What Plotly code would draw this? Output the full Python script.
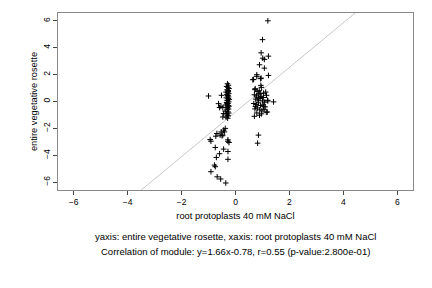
import plotly.graph_objects as go

# left cluster (root protoplasts ~ -0.3)
left_x = [-0.30,-0.26,-0.33,-0.28,-0.24,-0.31,-0.27,-0.35,-0.29,-0.25,-0.32,-0.28,-0.30,-0.26,-0.34,
          -0.27,-0.23,-0.31,-0.29,-0.25,-0.33,-0.28,-0.30,-0.36,-0.27,-0.24,-0.32,-0.29,-0.26,-0.31,
          -0.38,-0.28,-0.25,-0.33,-0.30,-0.27,-0.35,-0.29,-0.27,-0.32,
          -1.00,-0.52,-0.63,-0.54,-0.47,-0.59,-0.44,-0.47,
          -0.38,-0.44,-0.41,-0.53,-0.69,-0.47,-0.57,-0.73,-0.50,-0.28,-0.94,-0.91,-0.28,-0.24,
          -0.75,-0.44,-0.28,-0.59,-0.71,-0.28,-0.78,-0.75,-0.91,-0.68,-0.55,-0.36]
left_y = [1.32,1.21,1.12,1.03,0.96,0.87,0.81,0.70,0.66,0.58,0.53,0.45,0.41,0.34,0.27,
          0.22,0.16,0.09,0.06,-0.03,-0.07,-0.15,-0.19,-0.26,-0.31,-0.35,-0.43,-0.47,-0.56,-0.61,
          -0.72,-0.77,-0.86,-0.91,-1.01,-1.07,-1.16,-1.24,0.75,-0.12,
          0.41,0.46,-0.16,-0.36,-0.45,-0.45,-0.90,-1.15,
          -2.00,-2.13,-2.26,-2.26,-2.38,-2.50,-2.50,-2.58,-2.55,-2.85,-2.83,-2.95,-3.72,-3.05,
          -3.42,-3.54,-4.30,-3.88,-4.16,-2.96,-4.73,-4.85,-5.22,-5.60,-5.76,-6.06]

# right cluster (root protoplasts ~ 1)
right_x = [1.20,1.00,0.95,1.22,1.01,1.07,0.89,1.07,0.79,1.22,0.64,0.95,0.79,1.41,0.85,0.82,
           0.94,0.73,1.19,0.67,0.93,
           0.72,0.80,0.88,0.96,1.04,1.12,0.70,0.78,0.86,0.95,1.03,1.15,0.75,0.83,0.91,1.00,
           1.08,1.20,0.68,0.77,0.85,0.93,1.02,1.10,0.72,0.81,0.90,0.98,1.06,1.18,0.70,0.89,
           0.79,0.96,1.14,0.85,1.04,0.74,0.92]
right_y = [6.00,4.60,3.62,3.37,3.22,3.13,2.73,2.48,1.99,1.94,1.62,1.74,1.87,-0.03,-2.50,-3.10,
           1.20,0.95,0.09,1.64,1.70,
           0.88,0.75,0.80,1.05,0.62,0.70,0.50,0.42,0.55,0.38,0.30,0.46,0.18,0.10,0.22,0.05,
           -0.05,0.04,-0.15,-0.22,-0.10,-0.30,-0.25,-0.40,-0.55,-0.48,-0.62,-0.70,-0.58,-0.78,
           -1.10,-1.02,-0.85,-0.92,-0.80,0.28,-0.35,-0.38,0.60]

slope = 1.66
intercept = -0.78
x_range = [-6.58, 6.58]
y_range = [-6.58, 6.58]

pts_x = left_x + right_x
pts_y = left_y + right_y

font = "Liberation Sans, Arial, sans-serif"

fig = go.Figure()
line_x = x_range
line_y = [slope * v + intercept for v in line_x]
fig.add_trace(go.Scatter(x=line_x, y=line_y, mode="lines",
                         line=dict(color="#c8c8c8", width=1), hoverinfo="skip"))
fig.add_trace(go.Scatter(x=pts_x, y=pts_y, mode="markers",
                         marker=dict(symbol="cross-thin", size=4,
                                     line=dict(color="black", width=1))))

axis_common = dict(showgrid=False, zeroline=False, ticks="outside", ticklen=4,
                   tickcolor="#444", linecolor="#888", linewidth=1, mirror=True,
                   showline=True, tickfont=dict(size=8.5, family=font, color="black"))
fig.update_xaxes(range=x_range, tickvals=[-6, -4, -2, 0, 2, 4, 6], **axis_common,
                 title=dict(text="root protoplasts 40 mM NaCl", standoff=6,
                            font=dict(size=9.3, family=font, color="black")))
fig.update_yaxes(range=y_range, tickvals=[-6, -4, -2, 0, 2, 4, 6], tickangle=-90, **axis_common,
                 title=dict(text="entire vegetative rosette", standoff=2,
                            font=dict(size=9.3, family=font, color="black")))

fig.add_annotation(text="yaxis: entire vegetative rosette, xaxis: root protoplasts 40 mM NaCl",
                   xref="paper", yref="paper", x=0.5, y=-0.262, showarrow=False,
                   yanchor="middle", font=dict(size=9.5, family=font, color="black"))
fig.add_annotation(text="Correlation of module: y=1.66x-0.78, r=0.55 (p-value:2.800e-01)",
                   xref="paper", yref="paper", x=0.5, y=-0.345, showarrow=False,
                   yanchor="middle", font=dict(size=9.5, family=font, color="black"))

fig.update_layout(width=432, height=288, showlegend=False,
                  margin=dict(l=58, r=19, t=13, b=98),
                  plot_bgcolor="white", paper_bgcolor="white")

fig.write_html("out.html")
